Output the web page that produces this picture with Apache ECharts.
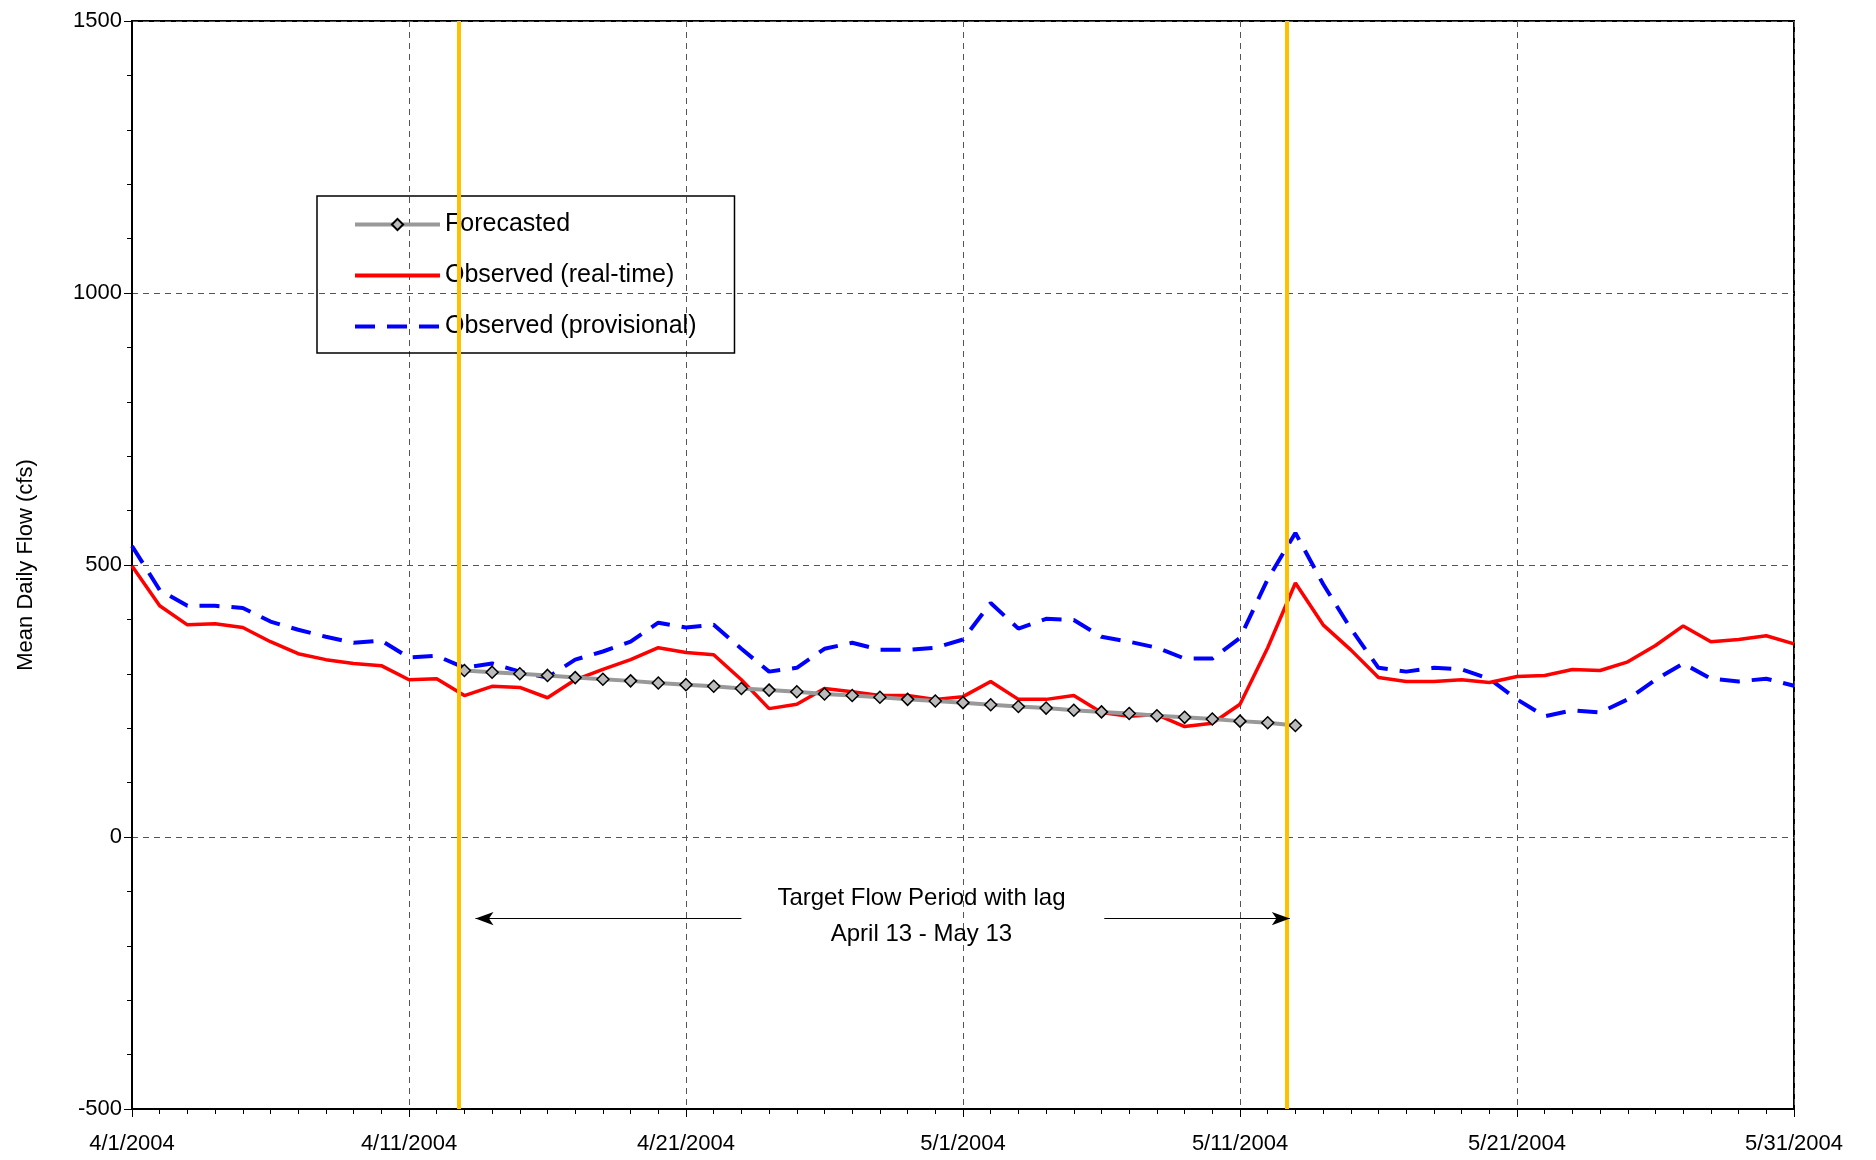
<!DOCTYPE html>
<html><head><meta charset="utf-8">
<script src="https://cdn.jsdelivr.net/npm/echarts@6/dist/echarts.min.js"></script>
<style>html,body{margin:0;background:#fff}#c{width:1876px;height:1160px}</style>
</head><body><div id="c"></div>
<script>
'use strict';
// day 0 = 4/1/2004
const dayLabels = { 0: '4/1/2004', 10: '4/11/2004', 20: '4/21/2004', 30: '5/1/2004', 40: '5/11/2004', 50: '5/21/2004', 60: '5/31/2004' };
const observedRealtime = [498,425,390,392,385,359,337,326,319,315,289,291,260,277,275,256,289,308,326,348,339,335,289,236,244,273,267,260,260,253,258,286,253,253,260,229,222,225,203,209,244,348,467,390,344,293,286,286,289,284,295,297,308,306,322,352,388,359,363,370,355];
const observedProvisional = [535,454,425,425,421,396,381,368,357,361,330,333,311,319,304,293,326,341,359,394,385,390,346,304,311,346,357,344,344,348,363,430,383,401,399,368,359,348,328,328,366,474,559,465,383,311,304,311,308,291,253,222,233,229,253,289,319,291,286,291,278];
const forecastStart = 12;
const forecasted = [306,303,300,297,293,290,287,283,280,277,273,270,267,263,260,257,253,250,247,243,240,237,233,230,227,223,220,217,213,210,205];
const targetLines = [11.8, 41.7];

const toXY = (arr, start) => arr.map((v, i) => [i + (start || 0), v]);
const font = 'Liberation Sans, Arial, sans-serif';
const chart = echarts.init(document.getElementById('c'));
chart.setOption({
  animation: false,
  textStyle: { fontFamily: font },
  grid: { left: 132, right: 82, top: 21, bottom: 51, show: true, borderColor: '#000', borderWidth: 2 },
  legend: {
    orient: 'vertical', left: 317, top: 196, padding: [16, 38, 14, 36], itemGap: 26,
    itemWidth: 85, itemHeight: 14, borderColor: '#000', borderWidth: 1.5,
    textStyle: { fontSize: 25, color: '#000', fontFamily: font, padding: [0, 0, 0, 0] },
    data: [
      { name: 'Forecasted', lineStyle: { width: 4 } },
      { name: 'Observed (real-time)', itemStyle: { opacity: 0 }, lineStyle: { width: 4 } },
      { name: 'Observed (provisional)', itemStyle: { opacity: 0 }, lineStyle: { width: 4 } }
    ]
  },
  xAxis: {
    type: 'value', min: 0, max: 60, interval: 10,
    axisLine: { onZero: false, lineStyle: { color: '#000', width: 2 } },
    axisTick: { length: 8, lineStyle: { color: '#000' } },
    minorTick: { show: true, splitNumber: 10, length: 5, lineStyle: { color: '#000' } },
    axisLabel: { formatter: v => dayLabels[v] || '', color: '#000', fontSize: 22, margin: 24 },
    splitLine: { show: true, lineStyle: { color: '#555', type: [6, 5] } }
  },
  yAxis: {
    type: 'value', min: -500, max: 1500, interval: 500,
    name: 'Mean Daily Flow (cfs)', nameLocation: 'middle', nameGap: 95,
    nameTextStyle: { fontSize: 22, color: '#000' },
    axisLine: { show: true, onZero: false, lineStyle: { color: '#000', width: 2 } },
    axisTick: { length: 8, lineStyle: { color: '#000' } },
    minorTick: { show: true, splitNumber: 5, length: 5, lineStyle: { color: '#000' } },
    axisLabel: { color: '#000', fontSize: 22, margin: 10, formatter: v => String(v) },
    splitLine: { show: true, lineStyle: { color: '#555', type: [6, 5] } }
  },
  series: [
    {
      name: 'Observed (provisional)', type: 'line', data: toXY(observedProvisional), symbol: 'none',
      lineStyle: { color: '#0000ff', width: 4, type: [20, 12] }, itemStyle: { color: '#0000ff' }, z: 2
    },
    {
      name: 'Observed (real-time)', type: 'line', data: toXY(observedRealtime), symbol: 'none',
      lineStyle: { color: '#ff0000', width: 3.5 }, itemStyle: { color: '#ff0000' }, z: 3,
      markLine: {
        silent: true, symbol: 'none', label: { show: false },
        lineStyle: { color: '#ffc000', width: 4, type: 'solid' },
        data: targetLines.map(x => ({ xAxis: x }))
      }
    },
    {
      name: 'Forecasted', type: 'line', data: toXY(forecasted, forecastStart),
      symbol: 'diamond', symbolSize: 12, showAllSymbol: true,
      lineStyle: { color: '#999', width: 4 }, itemStyle: { color: '#bbb', borderColor: '#000', borderWidth: 1.5 }, z: 4,
      markLine: {
        silent: true, symbol: ['arrow', 'none'], symbolSize: [10, 18], label: { show: false },
        lineStyle: { color: '#000', width: 1.2, type: 'solid' },
        data: [
          [{ coord: [12.4, -150] }, { coord: [22.0, -150] }],
          [{ coord: [41.8, -150] }, { coord: [35.1, -150] }]
        ]
      },
      markPoint: {
        silent: true, symbol: 'circle', symbolSize: 1,
        itemStyle: { color: 'transparent', borderWidth: 0 },
        label: { show: true, position: 'inside', color: '#000', fontSize: 24, lineHeight: 36, align: 'center', formatter: 'Target Flow Period with lag\nApril 13 - May 13' },
        data: [{ coord: [28.5, -145] }]
      }
    }
  ]
});
</script></body></html>
